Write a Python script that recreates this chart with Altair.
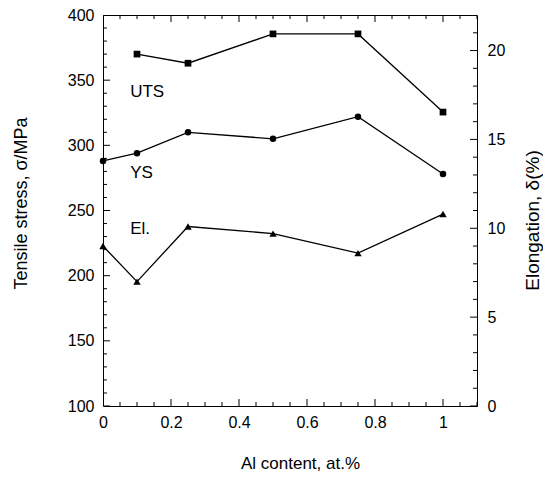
import altair as alt
import pandas as pd

# ---- data ----
x_uts = [0.1, 0.25, 0.5, 0.75, 1.0]
uts = [370, 363, 385.5, 385.5, 325.5]

x_ys = [0.0, 0.1, 0.25, 0.5, 0.75, 1.0]
ys = [288, 294, 310, 305, 322, 278]

x_el = [0.0, 0.1, 0.25, 0.5, 0.75, 1.0]
el = [9.0, 7.0, 10.1, 9.7, 8.6, 10.8]

label_text = ["UTS", "YS"]
label_x = [0.08, 0.08]
label_y = [337, 275]          # tensile-stress units
el_label_text = ["El."]
el_label_x = [0.08]
el_label_y = [9.68]           # elongation units

# axis tick values
x_major = [0, 0.2, 0.4, 0.6, 0.8, 1.0]
x_minor = [round(0.05 * i, 2) for i in range(23)]
left_major = [100, 150, 200, 250, 300, 350, 400]
left_minor = list(range(100, 401, 10))
right_major = [0, 5, 10, 15, 20]
right_minor = list(range(0, 23))

X_DOMAIN = [0, 1.1]
L_DOMAIN = [100, 400]
R_DOMAIN = [0, 22]

FONT = "Liberation Sans"
MAJ = 7   # inward major tick length (px)
MIN = 4   # inward minor tick length (px)

df_uts = pd.DataFrame({"x": x_uts, "v": uts})
df_ys = pd.DataFrame({"x": x_ys, "v": ys})
df_el = pd.DataFrame({"x": x_el, "v": el})
df_lab = pd.DataFrame({"x": label_x, "v": label_y, "t": label_text})
df_el_lab = pd.DataFrame({"x": el_label_x, "v": el_label_y, "t": el_label_text})

# tick tables (ticks are centred on the frame edge and clipped, so half shows inside)
def tick_table(major, minor):
    rows = [{"p": p, "len": 2 * MAJ} for p in major]
    rows += [{"p": p, "len": 2 * MIN} for p in minor if p not in major]
    return pd.DataFrame(rows)

tx = tick_table(x_major, x_minor)
df_xticks = pd.concat([tx.assign(edge=L_DOMAIN[0]), tx.assign(edge=L_DOMAIN[1])])
df_lticks = tick_table(left_major, left_minor).assign(edge=X_DOMAIN[0])
df_rticks = tick_table(right_major, right_minor).assign(edge=X_DOMAIN[1])

xs = alt.Scale(domain=X_DOMAIN, nice=False, zero=False)
ls = alt.Scale(domain=L_DOMAIN, nice=False, zero=False)
rs = alt.Scale(domain=R_DOMAIN, nice=False, zero=False)

# axes: labels and titles only (ticks drawn as clipped tick marks)
x_labels = alt.Axis(orient="bottom", values=x_major, ticks=False, tickSize=0,
                    domain=False, grid=False, labelPadding=8,
                    labelFlush=False, format="~g", title="Al content, at.%",
                    titleFontSize=17, titleX=197, titleY=62,
                    titleBaseline="alphabetic", titleAnchor="middle")
y_left_labels = alt.Axis(orient="left", values=left_major, ticks=False, tickSize=0,
                         domain=False, grid=False, labelPadding=9,
                         labelFlush=False,
                         title="Tensile stress, \u03c3/MPa", titleFontSize=18,
                         titleAngle=-90, titleX=-77, titleY=188,
                         titleBaseline="alphabetic", titleAlign="center")
y_right_labels = alt.Axis(orient="right", values=right_major, ticks=False, tickSize=0,
                          domain=False, grid=False, labelPadding=10,
                          labelFlush=False,
                          title="Elongation, \u03b4(%)", titleFontSize=19,
                          titleAngle=-90, titleX=61, titleY=205,
                          titleBaseline="alphabetic", titleAlign="center")

LW = 1.3

uts_line = alt.Chart(df_uts).mark_line(color="black", strokeWidth=LW).encode(
    x=alt.X("x:Q", scale=xs, axis=x_labels),
    y=alt.Y("v:Q", scale=ls, axis=y_left_labels),
)
uts_pts = alt.Chart(df_uts).mark_point(shape="square", filled=True, color="black",
                                       opacity=1, size=45).encode(
    x=alt.X("x:Q", scale=xs, axis=None),
    y=alt.Y("v:Q", scale=ls, axis=None),
)
ys_line = alt.Chart(df_ys).mark_line(color="black", strokeWidth=LW).encode(
    x=alt.X("x:Q", scale=xs, axis=None),
    y=alt.Y("v:Q", scale=ls, axis=None),
)
ys_pts = alt.Chart(df_ys).mark_point(shape="circle", filled=True, color="black",
                                     opacity=1, size=42).encode(
    x=alt.X("x:Q", scale=xs, axis=None),
    y=alt.Y("v:Q", scale=ls, axis=None),
)
labels = alt.Chart(df_lab).mark_text(align="left", baseline="alphabetic",
                                     font=FONT, fontSize=17, color="black").encode(
    x=alt.X("x:Q", scale=xs, axis=None),
    y=alt.Y("v:Q", scale=ls, axis=None),
    text="t:N",
)
el_line = alt.Chart(df_el).mark_line(color="black", strokeWidth=LW).encode(
    x=alt.X("x:Q", scale=xs, axis=None),
    y=alt.Y("v:Q", scale=rs, axis=y_right_labels),
)
el_pts = alt.Chart(df_el).mark_point(shape="triangle-up", filled=True, color="black",
                                     opacity=1, size=55).encode(
    x=alt.X("x:Q", scale=xs, axis=None),
    y=alt.Y("v:Q", scale=rs, axis=None),
)
el_label = alt.Chart(df_el_lab).mark_text(align="left", baseline="alphabetic",
                                          font=FONT, fontSize=17, color="black").encode(
    x=alt.X("x:Q", scale=xs, axis=None),
    y=alt.Y("v:Q", scale=rs, axis=None),
    text="t:N",
)

xticks = alt.Chart(df_xticks).mark_tick(orient="vertical", thickness=1, color="black",
                                        opacity=1, clip=True).encode(
    x=alt.X("p:Q", scale=xs, axis=None),
    y=alt.Y("edge:Q", scale=ls, axis=None),
    size=alt.Size("len:Q", scale=None, legend=None),
)
lticks = alt.Chart(df_lticks).mark_tick(orient="horizontal", thickness=1, color="black",
                                        opacity=1, clip=True).encode(
    x=alt.X("edge:Q", scale=xs, axis=None),
    y=alt.Y("p:Q", scale=ls, axis=None),
    size=alt.Size("len:Q", scale=None, legend=None),
)
rticks = alt.Chart(df_rticks).mark_tick(orient="horizontal", thickness=1, color="black",
                                        opacity=1, clip=True).encode(
    x=alt.X("edge:Q", scale=xs, axis=None),
    y=alt.Y("p:Q", scale=rs, axis=None),
    size=alt.Size("len:Q", scale=None, legend=None),
)

chart = alt.layer(
    xticks, lticks, rticks,
    uts_line, uts_pts, ys_line, ys_pts, labels, el_line, el_pts, el_label
).resolve_scale(x="independent", y="independent", size="independent").resolve_axis(
    x="independent", y="independent"
).properties(
    width=374, height=391,
    autosize=alt.AutoSizeParams(type="none"),
    padding={"left": 95, "top": 7, "right": 66, "bottom": 67},
    background="white",
).configure_view(
    stroke="black", strokeWidth=1
).configure_axis(
    labelFont=FONT, titleFont=FONT, labelFontSize=16, labelColor="black",
    titleColor="black", titleFontWeight="normal",
)

chart.save("out.html", embed_options={"renderer": "svg", "actions": False})
